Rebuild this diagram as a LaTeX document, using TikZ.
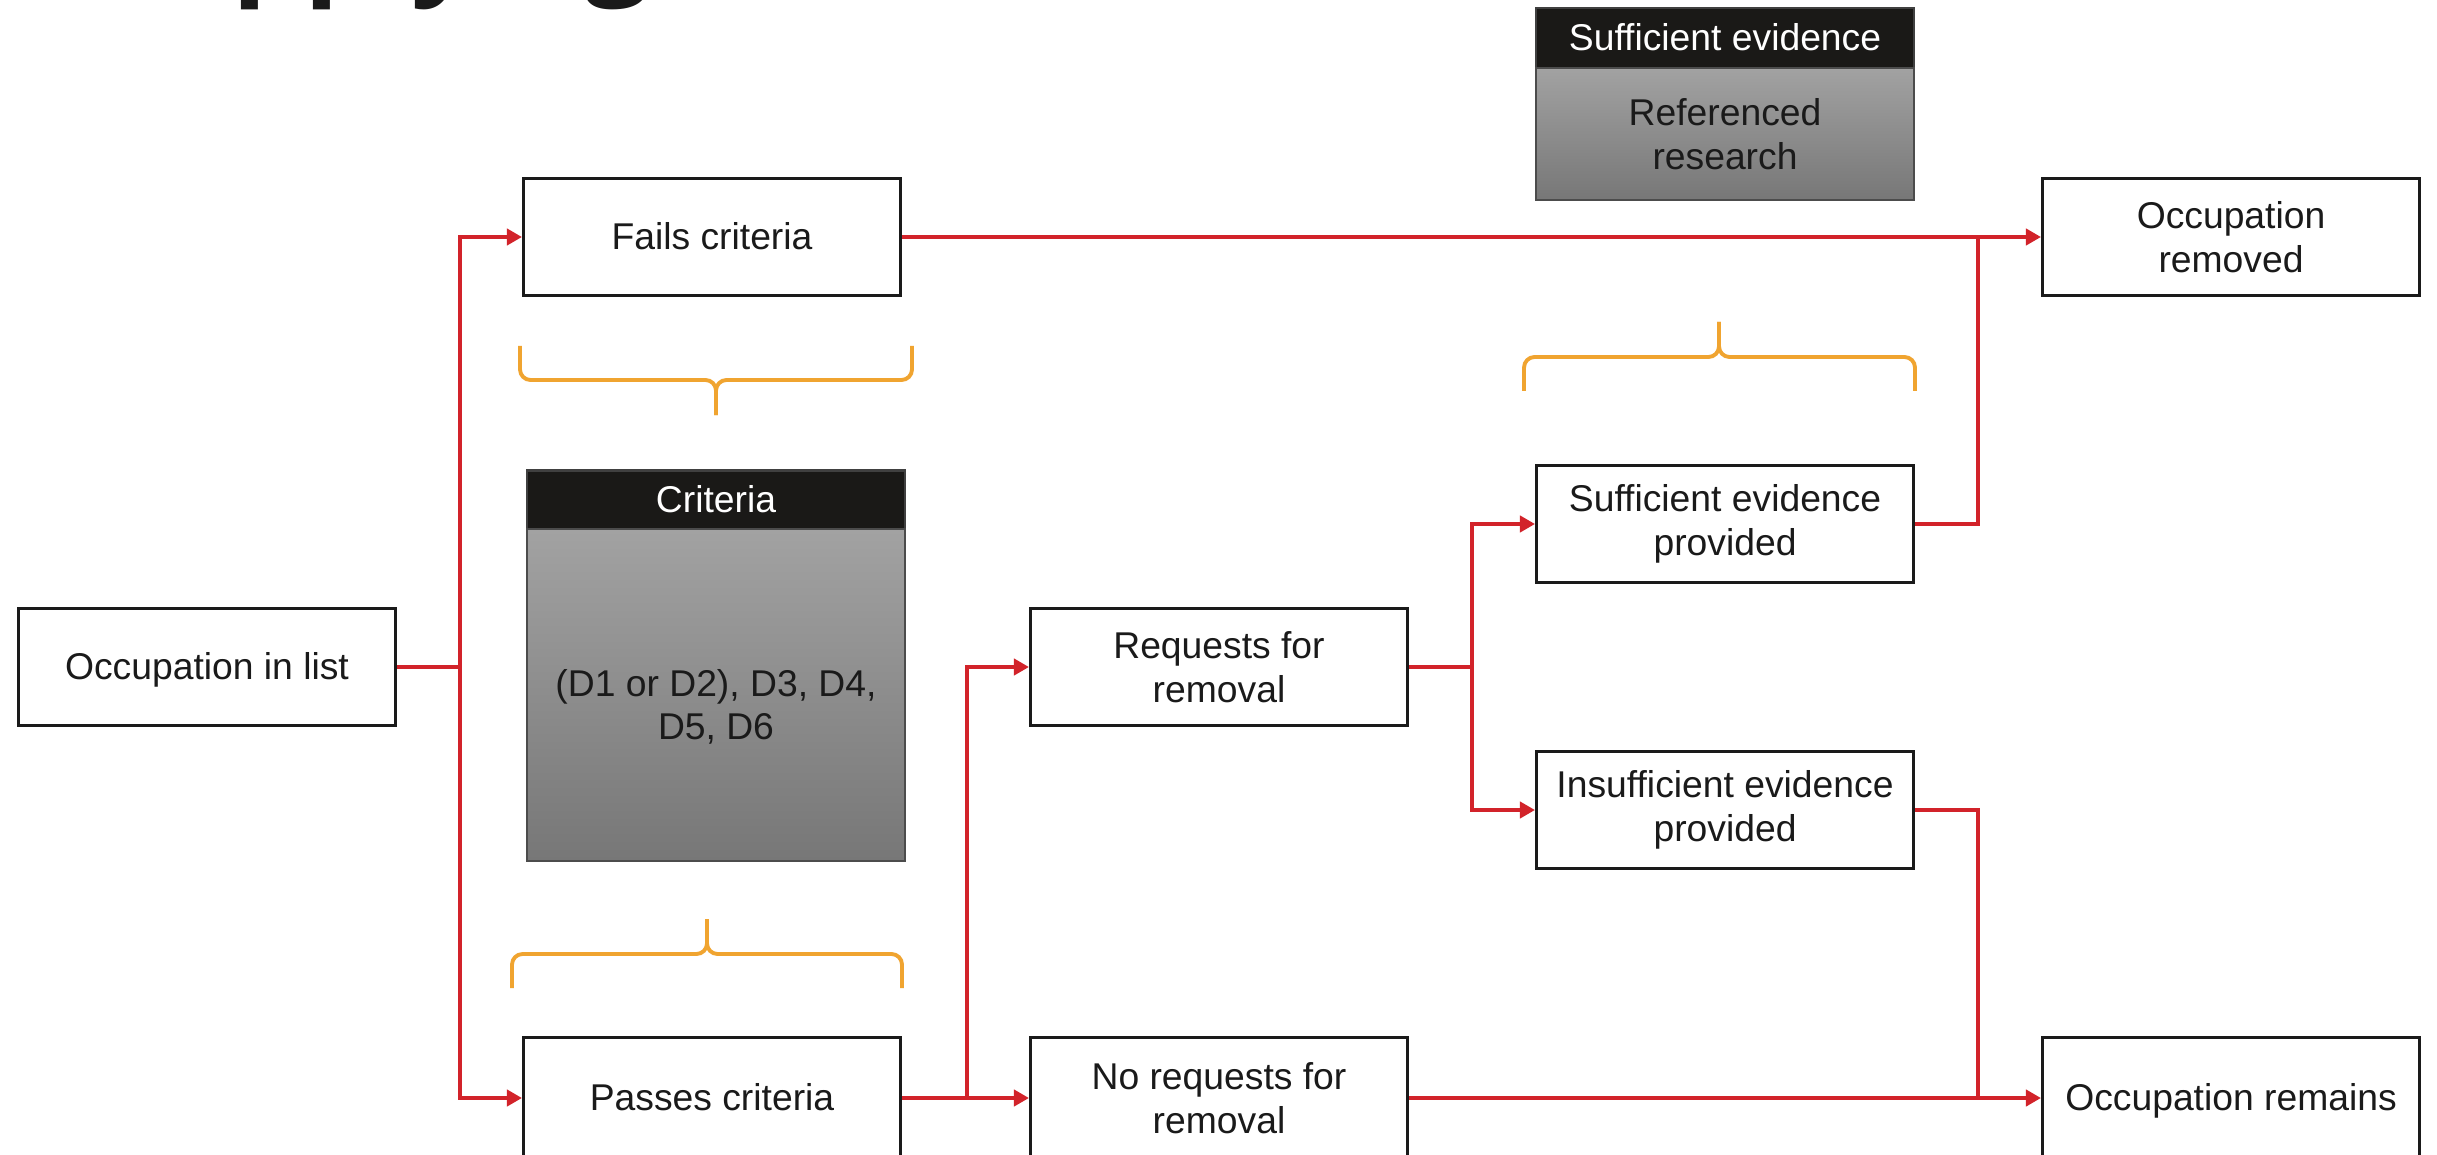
\documentclass[tikz,border=0pt]{standalone}
\usepackage{fontspec}
\setmainfont{Liberation Sans}
\newfontfamily\titlefont{Open Sans}
\usetikzlibrary{arrows.meta}
\definecolor{cred}{HTML}{D2232A}
\definecolor{corange}{HTML}{F0A430}
\definecolor{ctext}{HTML}{1A1A1A}
\definecolor{hdrblack}{HTML}{1A1917}
\definecolor{gtop}{HTML}{A2A2A2}
\definecolor{gbot}{HTML}{777777}
\begin{document}
\begin{tikzpicture}[x=0.01cm,y=-0.01cm,
  txt/.style={font=\fontsize{10.6pt}{12.4pt}\selectfont, align=center, inner sep=0pt},
  oneline/.style={text height=9.6pt, text depth=2.25pt},
  box/.style={txt, draw=ctext, line width=0.8pt, fill=white, text=ctext,
    minimum width=3.77cm, minimum height=1.17cm},
  lowbox/.style={box, minimum height=1.21cm},
  hdr/.style={txt, oneline, draw=black!75, line width=0.6pt, fill=hdrblack, text=white,
    minimum width=3.78cm},
  body/.style={txt, draw=black!70, line width=0.6pt, top color=gtop, bottom color=gbot,
    text=ctext, minimum width=3.78cm},
  conn/.style={draw=cred, line width=1.1pt},
  arr/.style={conn, -{Triangle[length=4.3pt,width=4.6pt]}},
  brace/.style={draw=corange, line width=1.1pt, rounded corners=3pt}]
\path[use as bounding box, fill=white] (0,0) rectangle (2437,1155);
\clip (0,0) rectangle (2437,1155);

% clipped title
\node[anchor=base west, inner sep=0pt, text=ctext,
  font=\titlefont\bfseries\fontsize{32.4pt}{34pt}\selectfont] (title) at (153,-17) {Applying};

% legend boxes
\node[hdr, minimum height=0.6cm] (sehead) at (1725,38) {Sufficient evidence};
\node[body, minimum height=1.32cm] (sebody) at (1725,134) {Referenced\\research};
\node[hdr, minimum height=0.59cm] (crhead) at (716,500) {Criteria};
\node[body, minimum height=3.31cm] (crbody) at (716,695) {};
\node[txt, text=ctext] (crtext) at (716,707) {(D1 or D2), D3, D4,\\D5, D6};

% flow boxes
\node[box, oneline] (list) at (207,667) {Occupation in list};
\node[box, oneline] (fails) at (712,237) {Fails criteria};
\node[lowbox, oneline] (passes) at (712,1098) {Passes criteria};
\node[box] (req) at (1219,667) {Requests for\\removal};
\node[lowbox] (noreq) at (1219,1098) {No requests for\\removal};
\node[box] (suff) at (1725,524) {Sufficient evidence\\provided};
\node[box] (insuff) at (1725,810) {Insufficient evidence\\provided};
\node[box] (removed) at (2231,237) {Occupation\\removed};
\node[lowbox, oneline] (remains) at (2231,1098) {Occupation remains};

% junctions
\coordinate (t1) at (460,667);
\coordinate (b1) at (967,1098);
\coordinate (b2) at (1472,667);
\coordinate (j1) at (1978,237);
\coordinate (j2) at (1978,1098);

% connectors
\draw[conn] (list.east) -- (t1);
\draw[arr] (t1) |- (fails.west);
\draw[arr] (t1) |- (passes.west);
\draw[arr] (fails.east) -- (removed.west);
\draw[arr] (passes.east) -- (noreq.west);
\draw[arr] (b1) |- (req.west);
\draw[conn] (req.east) -- (b2);
\draw[arr] (b2) |- (suff.west);
\draw[arr] (b2) |- (insuff.west);
\draw[conn] (suff.east) -| (j1);
\draw[arr] (noreq.east) -- (remains.west);
\draw[conn] (insuff.east) -| (j2);

% braces
\draw[brace] (520,346) -- (520,380) -- (716,380) -- (716,415);
\draw[brace] (912,346) -- (912,380) -- (716,380) -- (716,415);
\draw[brace] (1524,391) -- (1524,357) -- (1719,357) -- (1719,322);
\draw[brace] (1915,391) -- (1915,357) -- (1719,357) -- (1719,322);
\draw[brace] (512,988) -- (512,954) -- (707,954) -- (707,919);
\draw[brace] (902,988) -- (902,954) -- (707,954) -- (707,919);
\end{tikzpicture}
\end{document}
